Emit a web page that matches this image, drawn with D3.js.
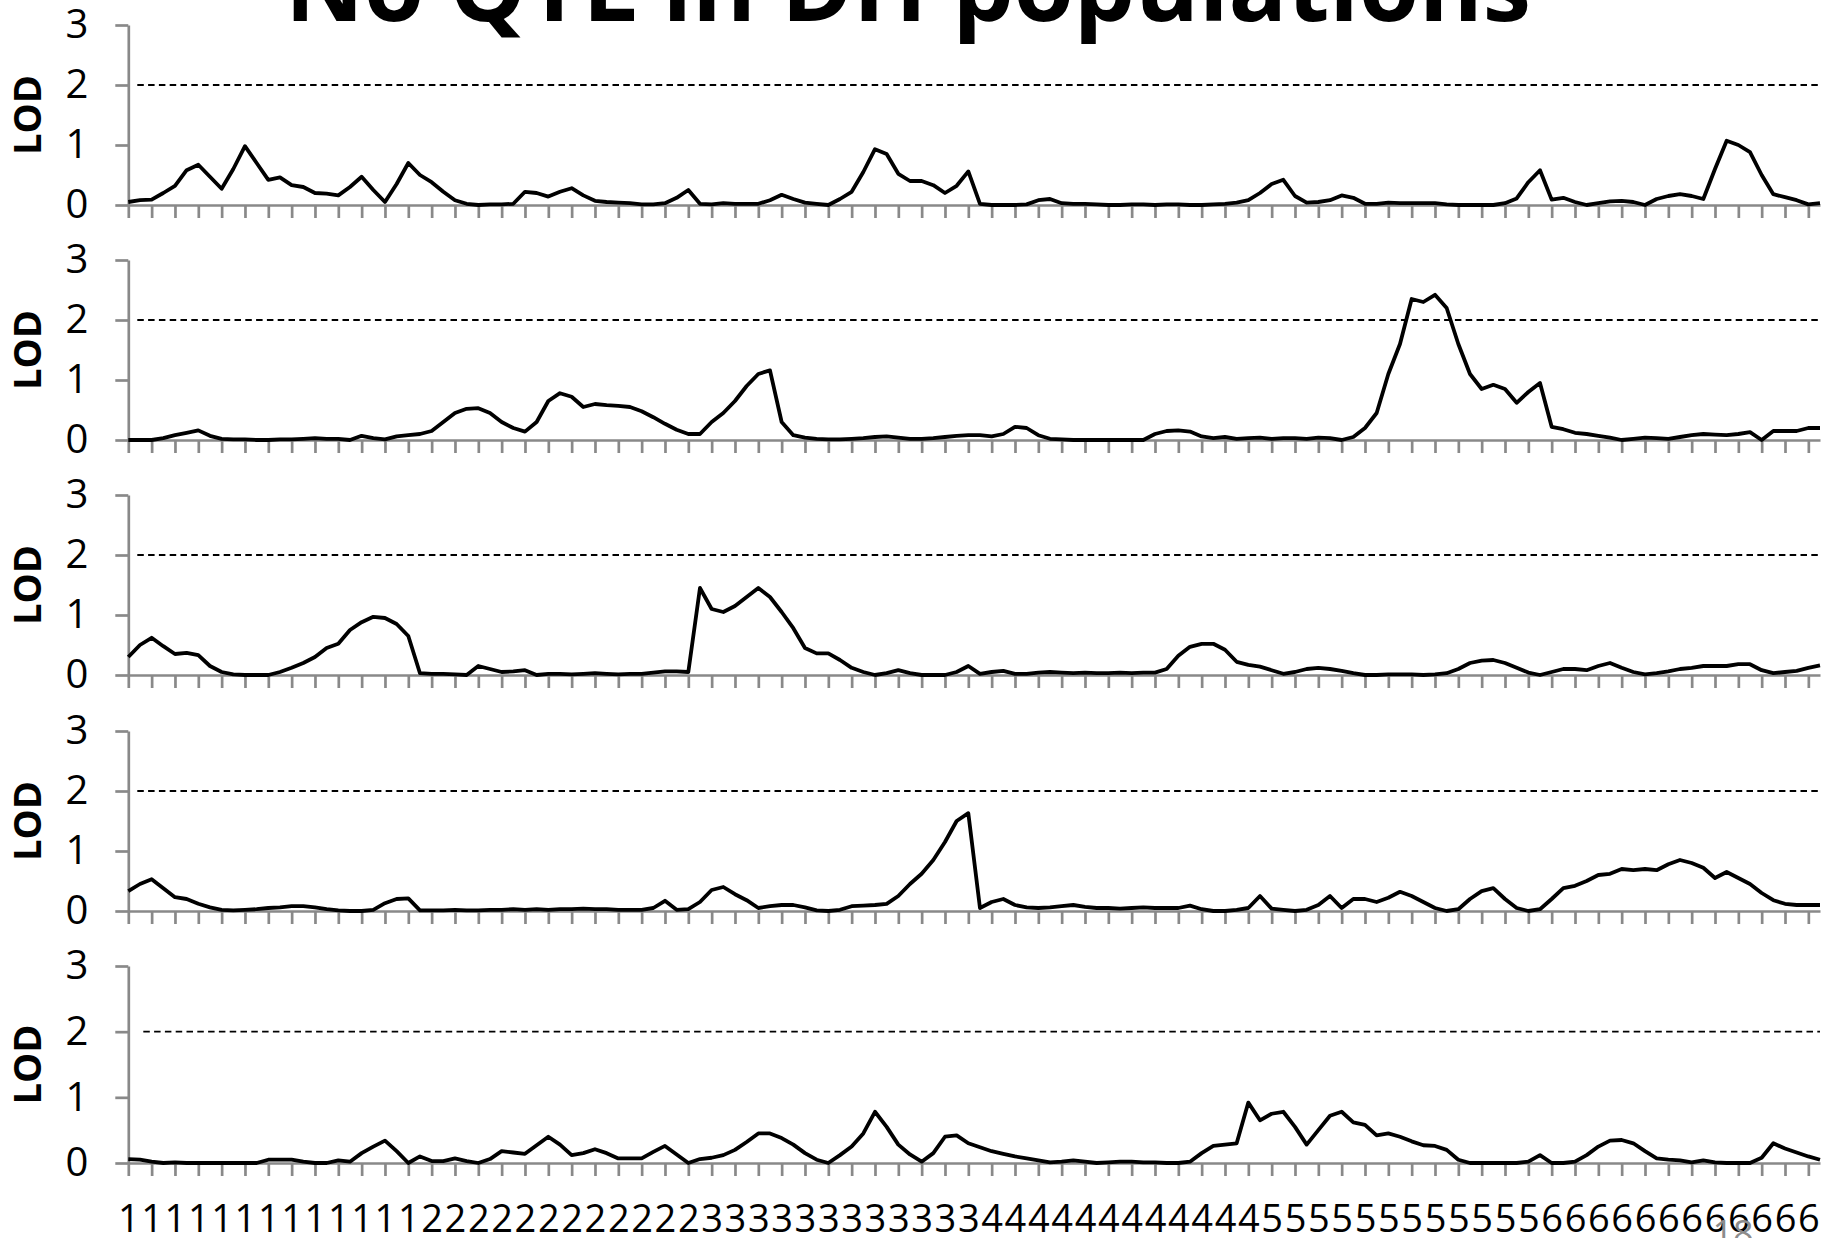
<!DOCTYPE html>
<html>
<head>
<meta charset="utf-8">
<script src="https://cdn.jsdelivr.net/npm/d3@7"></script>
<style>
body { margin: 0; background: #fff; }
svg { display: block; }
</style>
</head>
<body>
<div id="chart"></div>
<script>
// LOD profiles, one value every half tick-mark (5 values per tick row below = 5 ticks)
const lod1 = [
  .05,.08,.09,.2,.32,.58,.67,.47,.27,.6,
  .98,.7,.42,.46,.33,.3,.2,.19,.16,.3,
  .47,.25,.05,.35,.7,.5,.38,.22,.08,.02,
  0,.01,.01,.02,.22,.2,.14,.22,.28,.16,
  .07,.05,.04,.03,.01,.01,.03,.12,.25,.02,
  .01,.03,.02,.02,.02,.08,.17,.1,.04,.02,
  0,.1,.22,.55,.93,.85,.52,.4,.4,.33,
  .2,.32,.56,.02,0,0,0,.01,.08,.1,
  .03,.02,.02,.01,0,0,.01,.01,0,.01,
  .01,0,0,.01,.02,.04,.08,.2,.35,.42,
  .15,.04,.05,.08,.16,.12,.02,.02,.04,.03,
  .03,.03,.03,.01,0,0,0,0,.03,.11,
  .38,.58,.09,.12,.05,0,.03,.06,.07,.05,
  0,.1,.15,.18,.15,.1,.6,1.07,1.0,.88,
  .5,.18,.13,.08,.01,.03
];
const lod2 = [
  0,0,0,.03,.08,.12,.16,.07,.02,.01,
  .01,0,0,.01,.01,.02,.03,.02,.02,0,
  .07,.03,.01,.06,.08,.1,.15,.3,.45,.52,
  .53,.45,.3,.2,.14,.3,.65,.78,.72,.55,
  .6,.58,.57,.55,.48,.38,.27,.17,.1,.1,
  .3,.45,.65,.9,1.1,1.16,.3,.08,.04,.02,
  .01,.01,.02,.03,.05,.06,.04,.02,.02,.03,
  .05,.07,.08,.08,.06,.1,.22,.2,.08,.02,
  .01,0,0,0,0,0,0,0,.1,.15,
  .16,.14,.06,.03,.05,.02,.03,.04,.02,.03,
  .03,.02,.04,.03,0,.05,.2,.45,1.1,1.6,
  2.35,2.3,2.42,2.2,1.6,1.1,.85,.92,.85,.62,
  .8,.95,.22,.18,.12,.1,.07,.04,0,.02,
  .04,.03,.02,.05,.08,.1,.09,.08,.1,.13,
  0,.15,.15,.15,.2,.2
];
const lod3 = [
  .3,.5,.62,.48,.35,.37,.33,.15,.05,.01,
  0,0,0,.05,.12,.2,.3,.45,.52,.75,
  .88,.97,.95,.85,.65,.03,.02,.02,.01,0,
  .15,.1,.05,.06,.08,0,.02,.02,.01,.02,
  .03,.02,.01,.02,.02,.04,.06,.06,.05,1.45,
  1.1,1.05,1.15,1.3,1.45,1.3,1.05,.78,.45,.36,
  .36,.25,.12,.05,0,.03,.08,.03,0,0,
  0,.05,.15,.02,.05,.07,.02,.02,.04,.05,
  .04,.03,.04,.03,.03,.04,.03,.04,.04,.1,
  .32,.47,.52,.52,.42,.22,.17,.14,.08,.02,
  .05,.1,.12,.1,.07,.03,0,0,.01,.01,
  .01,0,.01,.03,.1,.2,.24,.25,.2,.12,
  .04,0,.05,.1,.1,.08,.15,.2,.12,.05,
  .01,.03,.06,.1,.12,.15,.15,.15,.18,.18,
  .08,.03,.05,.07,.12,.16
];
const lod4 = [
  .33,.45,.53,.38,.23,.2,.12,.06,.02,.01,
  .02,.03,.05,.06,.08,.08,.06,.03,.01,0,
  0,.02,.13,.2,.21,.01,.01,.01,.02,.01,
  .01,.02,.02,.03,.02,.03,.02,.03,.03,.04,
  .03,.03,.02,.02,.02,.05,.17,.02,.03,.15,
  .35,.4,.28,.18,.05,.08,.1,.1,.06,.01,
  0,.02,.08,.09,.1,.12,.25,.45,.62,.85,
  1.15,1.5,1.63,.05,.15,.2,.1,.06,.05,.06,
  .08,.1,.07,.05,.05,.04,.05,.06,.05,.05,
  .05,.09,.03,0,0,.02,.05,.25,.04,.02,
  0,.02,.1,.25,.05,.2,.2,.15,.22,.32,
  .25,.15,.05,0,.03,.2,.33,.38,.2,.05,
  0,.03,.2,.38,.42,.5,.6,.62,.7,.68,
  .7,.68,.78,.85,.8,.72,.55,.65,.55,.45,
  .3,.18,.12,.1,.1,.1
];
const lod5 = [
  .06,.05,.02,0,.01,0,0,0,0,0,
  0,0,.05,.05,.05,.02,0,0,.04,.02,
  .15,.25,.34,.18,0,.1,.03,.03,.07,.03,
  0,.06,.18,.16,.14,.27,.4,.28,.12,.15,
  .21,.15,.07,.07,.07,.17,.26,.13,0,.06,
  .08,.12,.2,.32,.45,.45,.38,.28,.15,.05,
  0,.12,.25,.45,.78,.55,.28,.13,.02,.15,
  .4,.42,.3,.24,.18,.14,.1,.07,.04,.01,
  .02,.04,.02,0,.01,.02,.02,.01,.01,0,
  0,.02,.15,.26,.28,.3,.92,.65,.75,.78,
  .55,.28,.5,.72,.78,.62,.58,.42,.45,.4,
  .33,.27,.26,.2,.05,0,0,0,0,0,
  .02,.12,0,0,.02,.12,.25,.34,.35,.3,
  .18,.07,.05,.04,.01,.04,.01,0,0,0,
  .08,.3,.22,.16,.1,.05
];
// chromosome label shown under each tick mark
const chromLabels = ("1111111111111" + "222222222222" + "333333333333" +
  "444444444444" + "555555555555" + "666666666666").split("");
const lodTicks = [0, 1, 2, 3];
const threshold = 2;
const title = "No QTL in DH populations";

const width = 1825;
const height = 1238;
const axisGray = "#898989";
const font = "'Open Sans', 'Liberation Sans', sans-serif";

const svg = d3.select("#chart")
  .append("svg")
  .attr("width", width)
  .attr("height", height);

const x = d3.scaleLinear().domain([0, lod1.length - 1]).range([128.3, 1820]);
const tickIdx = chromLabels.map((d, i) => i * 2);

const panels = [
  { values: lod1, top: 25, zero: 205 },
  { values: lod2, top: 260, zero: 440 },
  { values: lod3, top: 495, zero: 675 },
  { values: lod4, top: 731, zero: 911 },
  { values: lod5, top: 966, zero: 1163 }
];

panels.forEach((p, k) => {
  const last = k === panels.length - 1;
  const y = d3.scaleLinear().domain([0, 3]).range([p.zero, p.top]);
  const g = svg.append("g");

  // threshold
  g.append("line")
    .attr("x1", x(0) + (last ? 15 : 9))
    .attr("x2", x(lod1.length - 1))
    .attr("y1", y(threshold))
    .attr("y2", y(threshold))
    .attr("stroke", "#000")
    .attr("stroke-width", 1.8)
    .attr("stroke-dasharray", "6.5,4.3");

  const yAxis = g.append("g")
    .attr("transform", `translate(${x(0)},0)`)
    .call(d3.axisLeft(y).tickValues(lodTicks).tickFormat(d3.format("d"))
      .tickSize(13).tickSizeOuter(0).tickPadding(27));

  const xAxis = g.append("g")
    .attr("transform", `translate(0,${y(0)})`)
    .call(d3.axisBottom(x).tickValues(tickIdx)
      .tickFormat((d, i) => last ? chromLabels[i] : "")
      .tickSize(13).tickSizeOuter(0).tickPadding(29));

  [yAxis, xAxis].forEach(a => {
    a.select(".domain").attr("stroke", axisGray).attr("stroke-width", 2.7);
    a.selectAll(".tick line").attr("stroke", axisGray).attr("stroke-width", 2.7);
    a.selectAll("text")
      .attr("fill", "#000")
      .style("font-family", font);
  });
  yAxis.selectAll("text").style("font-size", "40px");
  xAxis.selectAll("text").style("font-size", "38px");

  g.append("text")
    .attr("transform", `translate(28,${(p.top + p.zero) / 2}) rotate(-90)`)
    .attr("text-anchor", "middle")
    .attr("dy", "0.35em")
    .style("font-family", font)
    .style("font-weight", "700")
    .style("font-size", "38px")
    .text("LOD");

  g.append("path")
    .datum(p.values)
    .attr("fill", "none")
    .attr("stroke", "#000")
    .attr("stroke-width", 3.8)
    .attr("stroke-linejoin", "round")
    .attr("d", d3.line().x((d, i) => x(i)).y(d => y(d)));
});

svg.append("text")
  .attr("x", 285)
  .attr("y", 21)
  .attr("textLength", 1246)
  .attr("lengthAdjust", "spacingAndGlyphs")
  .style("font-family", font)
  .style("font-weight", "700")
  .style("font-size", "96px")
  .text(title);

// slide number
svg.append("text")
  .attr("x", 1733)
  .attr("y", 1246)
  .attr("text-anchor", "middle")
  .attr("fill", "#8c8c8c")
  .style("font-family", font)
  .style("font-size", "36px")
  .text("18");
</script>
</body>
</html>
